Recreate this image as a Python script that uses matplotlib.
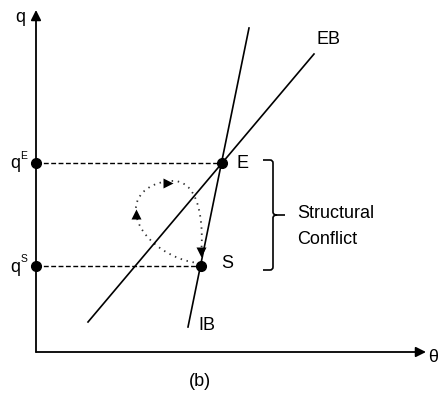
import matplotlib.pyplot as plt
from matplotlib.path import Path
from matplotlib.patches import PathPatch

plt.rcParams['font.family'] = ['Liberation Sans', 'DejaVu Sans']

# diagram coordinates (x to the right, y downward)
origin = (36, 352)
y_tip = (36, 10)
x_tip = (426, 352)

E = (222, 163)
S = (201, 266)

# the two schedules, given by their end points
EB_line = [(88, 322), (314, 54)]
IB_line = [(188, 327), (249, 28)]

# dotted adjustment loop, cubic bezier control points
loop_pts = [(200, 263),
            (175, 262), (138, 240), (136, 212),
            (134, 192), (155, 180), (175, 181),
            (200, 183), (204, 225), (201, 255)]
loop_arrows = [((168, 183), '>'), ((136, 214), '^'), ((201, 252), 'v')]

# brace on the right of E and S
brace_x = 273
brace_top = 160
brace_bot = 270

fig = plt.figure(figsize=(4.38, 3.97), dpi=100)
ax = fig.add_axes([0, 0, 1, 1])
ax.set_xlim(0, 438)
ax.set_ylim(397, 0)
ax.axis('off')

# axes with arrow heads
for tip in (y_tip, x_tip):
    ax.annotate('', xy=tip, xytext=origin,
                arrowprops=dict(arrowstyle='-|>,head_length=0.6,head_width=0.3',
                                color='black', lw=1.3, shrinkA=0, shrinkB=0))

# EB and IB lines
ax.plot([p[0] for p in EB_line], [p[1] for p in EB_line], color='black', lw=1.2)
ax.plot([p[0] for p in IB_line], [p[1] for p in IB_line], color='black', lw=1.2)

# dashed projections to the q axis
for pt in (E, S):
    ax.plot([origin[0], pt[0]], [pt[1], pt[1]], color='black', lw=1.0,
            linestyle=(0, (3.5, 1.8)))
    ax.plot([origin[0], pt[0]], [pt[1], pt[1]], 'o', color='black', ms=7)

# dotted loop from S back to S
codes = [Path.MOVETO] + [Path.CURVE4] * 9
path = Path(loop_pts, codes)
ax.add_patch(PathPatch(path, fill=False, color='#333333', lw=1.3,
                       linestyle=(0, (0.8, 2.6))))
for (px, py), m in loop_arrows:
    ax.plot(px, py, marker=m, color='black', ms=7, mec='none')

# brace with slightly rounded corners (CURVE3 takes control, end pairs)
mid = (brace_top + brace_bot) / 2
bverts = [(263, brace_top), (brace_x - 3, brace_top),
          (brace_x, brace_top), (brace_x, brace_top + 3),
          (brace_x, mid - 3),
          (brace_x, mid), (brace_x + 4, mid), (285, mid),
          (brace_x + 4, mid), (brace_x, mid), (brace_x, mid + 3),
          (brace_x, brace_bot - 3),
          (brace_x, brace_bot), (brace_x - 3, brace_bot), (263, brace_bot)]
bcodes = [Path.MOVETO, Path.LINETO,
          Path.CURVE3, Path.CURVE3,
          Path.LINETO,
          Path.CURVE3, Path.CURVE3, Path.LINETO,
          Path.MOVETO, Path.CURVE3, Path.CURVE3,
          Path.LINETO,
          Path.CURVE3, Path.CURVE3, Path.LINETO]
ax.add_patch(PathPatch(Path(bverts, bcodes), fill=False, color='black', lw=1.2))

# labels
fs = 13
ax.text(20, 17, 'q', fontsize=fs, ha='center', va='center')
ax.text(433, 357, 'θ', fontsize=fs, ha='center', va='center')
ax.text(15, 164, 'q', fontsize=fs, ha='center', va='center')
ax.text(24, 156, 'E', fontsize=7.5, ha='center', va='center')
ax.text(15, 267, 'q', fontsize=fs, ha='center', va='center')
ax.text(24, 259, 'S', fontsize=7.5, ha='center', va='center')
ax.text(237, 164, 'E', fontsize=fs, ha='left', va='center')
ax.text(221, 263, 'S', fontsize=fs, ha='left', va='center')
ax.text(317, 39, 'EB', fontsize=fs, ha='left', va='center')
ax.text(198, 326, 'IB', fontsize=fs, ha='left', va='center')
ax.text(297, 213, 'Structural', fontsize=fs, ha='left', va='center')
ax.text(297, 240, 'Conflict', fontsize=fs, ha='left', va='center')
ax.text(200, 381, '(b)', fontsize=fs, ha='center', va='center')

fig.savefig('out.png', dpi=100)
